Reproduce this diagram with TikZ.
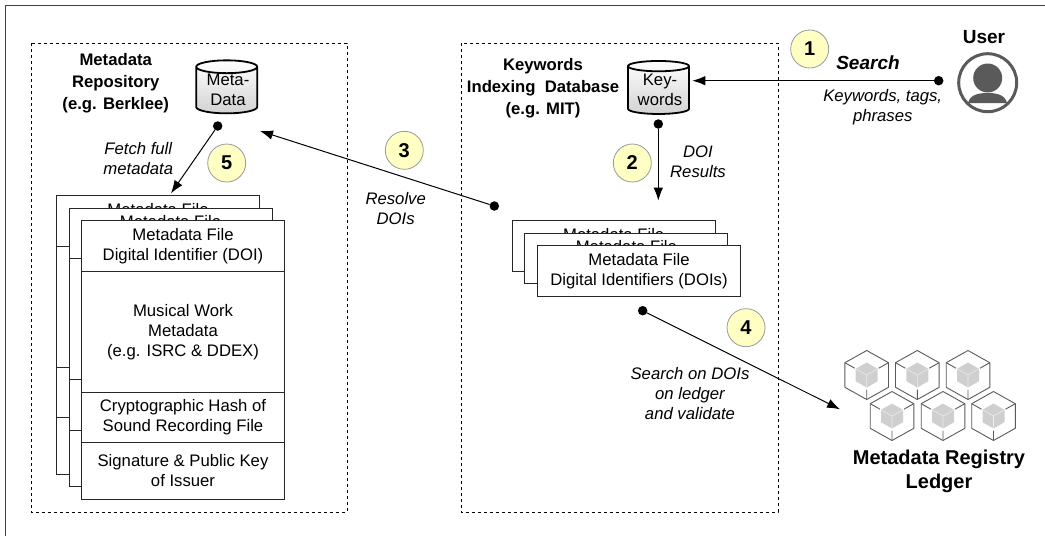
\documentclass[tikz,border=0pt]{standalone}
\usepackage{fontspec}
\setmainfont{Liberation Sans}
\usetikzlibrary{shapes.geometric,arrows.meta}
\definecolor{badgefill}{HTML}{FFFFC4}
\definecolor{icongray}{HTML}{5A5A5A}
\definecolor{cubegray}{HTML}{CFCFCF}
\tikzset{
	boldtext/.style={align=center,inner sep=0pt,font=\fontsize{16.7}{21.8}\selectfont\bfseries},
	slanttext/.style={align=center,inner sep=0pt,font=\fontsize{16.7}{20}\selectfont\itshape},
	plaintext/.style={align=center,inner sep=0pt,font=\fontsize{16.7}{20}\selectfont},
	filerow/.style={plaintext,draw=black!85,line width=1pt,fill=white,anchor=north west,minimum width=203pt},
	badge/.style={draw=gray!80,circle,fill=badgefill,line width=0.8pt,minimum size=38pt,inner sep=0pt,font=\fontsize{20}{20}\selectfont\bfseries},
	dbcyl/.style={draw=black,line width=1.8pt,cylinder,shape border rotate=90,aspect=0.3,minimum width=61pt,minimum height=53pt,inner sep=0pt,top color=white,bottom color=gray!35,font=\fontsize{16.7}{20}\selectfont},
	dashbox/.style={draw=black,dashed,line width=0.8pt},
	dot/.style={circle,fill=black,inner sep=0pt,minimum size=9.5pt},
	flow/.style={line width=1pt,-{Latex[length=13pt,width=9.5pt]}}
}
\begin{document}
\begin{tikzpicture}[x=1pt,y=-1pt]
			\useasboundingbox (0,0) rectangle (1045,536);
			\draw[line width=1pt,black!75] (5,536) -- (5,5) -- (1045,5);
			
			\draw[dashbox] (31,43) rectangle (347,512);
			\draw[dashbox] (461,43) rectangle (778,512);
			
			\node[boldtext] (repotitle) at (115.7,83.5) {Metadata\\Repository\\(e.g. Berklee)};
			\node[boldtext] (indextitle) at (543,88.5) {Keywords\\Indexing\ \ Database\\(e.g. MIT)};
			\node[dbcyl] (metadb) at (226.7,90.5) {\phantom{Meta-}};
			\node[dbcyl] (keydb) at (658.5,90.5) {\phantom{Key-}};
			\node[plaintext] (metatext) at (228,90) {Meta-\\Data};
			\node[plaintext] (keytext) at (660,90) {Key-\\words};
			
			\foreach \fx/\fy in {56/195, 68.5/207.5} {
				\node[filerow,minimum height=50.7pt] at (\fx,\fy) {Metadata File\\\phantom{Digital}};
				\node[filerow,minimum height=121pt] at (\fx,\fy+50.7) {};
				\node[filerow,minimum height=50.5pt] at (\fx,\fy+171.7) {};
				\node[filerow,minimum height=56.5pt] at (\fx,\fy+222.2) {};
			}
			\node[filerow,minimum height=50.7pt] (filehead) at (81,220) {Metadata File\\Digital Identifier (DOI)};
			\node[filerow,minimum height=121pt] (filework) at (81,270.7) {Musical Work\\Metadata\\(e.g. ISRC \& DDEX)};
			\node[filerow,minimum height=50.5pt] (filehash) at (81,391.7) {Cryptographic Hash of\\Sound Recording File};
			\node[filerow,minimum height=56.5pt] (filesig) at (81,442.2) {Signature \& Public Key\\of Issuer};
			
			\node[filerow,minimum height=50.7pt] (doiback) at (511.7,220) {Metadata File\\\phantom{Digital}};
			\node[filerow,minimum height=50.7pt] (doimid) at (524.4,232.5) {Metadata File\\\phantom{Digital}};
			\node[filerow,minimum height=50.7pt] (doifront) at (537,245) {Metadata File\\Digital Identifiers (DOIs)};
			
			\node[dot] (searchdot) at (938.7,80.7) {};
			\node[dot] (resultdot) at (658.3,124) {};
			\node[dot] (resolvedot) at (494.3,206) {};
			\node[dot] (ledgerdot) at (642.7,310.7) {};
			\node[dot] (fetchdot) at (217.7,126) {};
			\coordinate (searchtip) at (692.3,80.7);
			\coordinate (resulttip) at (658.3,200.7);
			\coordinate (resolvetip) at (260,131);
			\coordinate (ledgertip) at (840,409.3);
			\coordinate (fetchtip) at (171,193.3);
			
			\draw[flow] (searchdot) to (searchtip);
			\draw[flow] (resultdot) to (resulttip);
			\draw[flow] (resolvedot) to (resolvetip);
			\draw[flow] (ledgerdot) to (ledgertip);
			\draw[flow] (fetchdot) to (fetchtip);
			
			\node[badge] (one) at (809.7,49) {1};
			\node[badge] (two) at (632.3,163) {2};
			\node[badge] (three) at (404.3,150.3) {3};
			\node[badge] (four) at (746,327.7) {4};
			\node[badge] (five) at (226.7,163) {5};
			
			\node[inner sep=0pt,font=\fontsize{19}{20}\selectfont\bfseries\itshape] (search) at (868,63) {Search};
			\node[slanttext] (tagtext) at (882.7,107.5) {Keywords, tags,\\phrases};
			\node[slanttext] (doitext) at (698,162) {DOI\\Results};
			\node[slanttext] (resolvetext) at (395.7,209) {Resolve\\DOIs};
			\node[slanttext] (fetchtext) at (138.3,158.5) {Fetch full\\metadata};
			\node[slanttext] (ledgertext) at (690,394) {Search on DOIs\\on ledger\\and validate};
			
			\node[inner sep=0pt,font=\fontsize{19}{20}\selectfont\bfseries] (user) at (984,37) {User};
			\node[draw=icongray,circle,line width=3pt,minimum size=58pt,inner sep=0pt] (usericon) at (987.7,82.7) {};
			\fill[icongray] (987.7,78) circle (14.5);
			\fill[icongray] (968,103) .. controls (970,94) and (980,93) .. (987.7,93) .. controls (995,93) and (1005,94) .. (1007,103) -- cycle;
			
			\foreach \cx/\cy in {866.7/375, 917.3/375, 968/375, 892/416, 943/416, 993.5/416} {
				\begin{scope}[shift={(\cx,\cy)}]
					\draw[icongray,line width=0.9pt,line join=round] (0,-24.5) -- (21.8,-12.3) -- (21.8,12.3) -- (0,24.5) -- (-21.8,12.3) -- (-21.8,-12.3) -- cycle;
					\draw[icongray,line width=0.9pt] (-21.8,-12.3) -- (-12,-6.8) (21.8,-12.3) -- (12,-6.8) (0,24.5) -- (0,14.5);
					\fill[cubegray] (0,-12.5) -- (11,-6.2) -- (11,6.2) -- (0,12.5) -- (-11,6.2) -- (-11,-6.2) -- cycle;
					\draw[white!92!black,line width=0.6pt] (-11,-6.2) -- (0,0) -- (11,-6.2) (0,0) -- (0,12.5);
				\end{scope}
			}
			\node[boldtext,font=\fontsize{20}{24}\selectfont\bfseries] (ledger) at (939,471) {Metadata Registry\\Ledger};
			\end{tikzpicture}
\end{document}
